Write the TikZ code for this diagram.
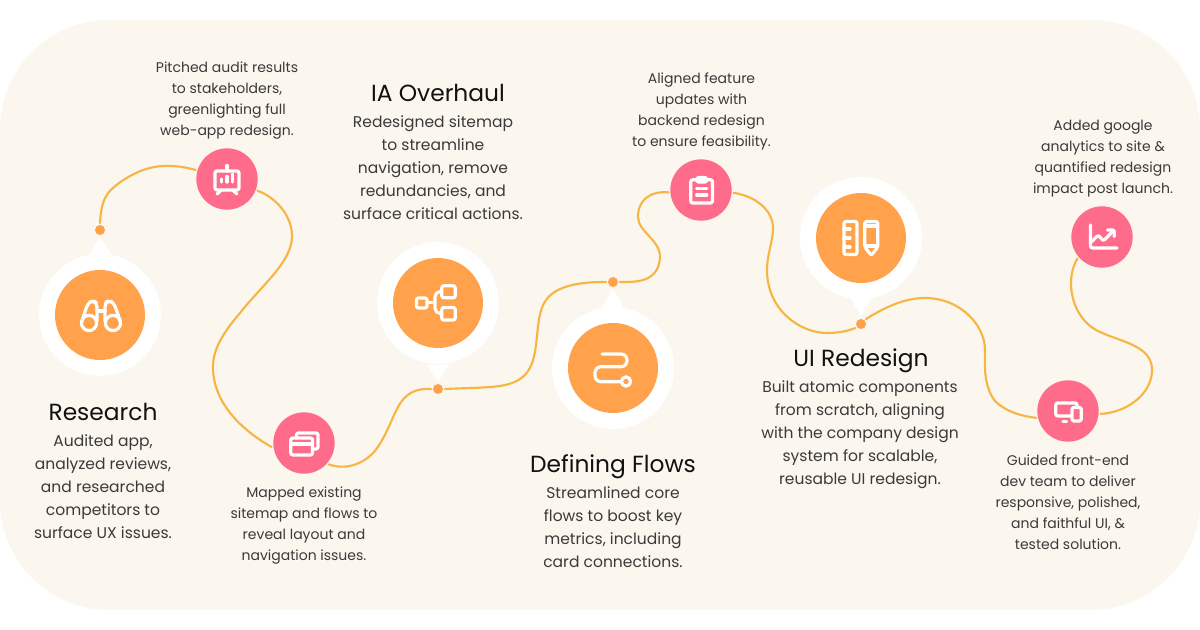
\documentclass[tikz,border=0pt]{standalone}
\usepackage{fontspec}
\setmainfont{Poppins}
\usetikzlibrary{arrows.meta,calc}
\definecolor{JourneyPaper}{HTML}{FBF7EF}
\definecolor{JourneyOrange}{HTML}{FFA24B}
\definecolor{JourneyPink}{HTML}{FF6B8A}
\definecolor{JourneyRoute}{HTML}{F7B643}
\definecolor{JourneyHead}{HTML}{111111}
\definecolor{JourneyInk}{HTML}{3A3A3A}
\tikzset{
    journey/diagram/.style={
        x=0.75pt, y=-0.75pt,
        line cap=round,
        line join=round
    },
    journey/route/.style={draw=JourneyRoute, line width=1.6pt},
    journey/halo/.style={circle, fill=white, inner sep=0pt, minimum size=91.5pt},
    journey/phase/.style={circle, fill=JourneyOrange, inner sep=0pt, minimum size=67.5pt},
    journey/step/.style={
        circle, fill=JourneyPink, inner sep=0pt, minimum size=46pt, outer sep=1.5pt
    },
    journey/point/.style={
        circle, fill=JourneyOrange, inner sep=0pt, minimum size=7.5pt, outer sep=1.5pt
    },
    journey/tail/.style={fill=white},
    journey/icon/.style={draw=white, line width=2.4pt, rounded corners=1.5pt},
    journey/heading/.style={
        align=center, text=JourneyHead, inner sep=0pt,
        font=\fontsize{17.5pt}{22pt}\selectfont
    },
    journey/body/.style={
        align=center, text=JourneyInk, inner sep=0pt,
        font=\fontsize{11.65pt}{17.25pt}\selectfont
    },
    journey/note/.style={
        align=center, text=JourneyInk, inner sep=0pt,
        font=\fontsize{10.5pt}{15.75pt}\selectfont
    }
}
\begin{document}
\begin{tikzpicture}[journey/diagram]
    \useasboundingbox (0,0) rectangle (1200,630);
    \fill[JourneyPaper, rounded corners=82pt] (0,20) rectangle (1200,610);

    % bubbles
    \fill[journey/tail] (89,256) -- (100,237) -- (112,256) -- cycle;
    \fill[journey/tail] (427,365) -- (438,382) -- (449,365) -- cycle;
    \fill[journey/tail] (602,308) -- (613,289) -- (624,308) -- cycle;
    \fill[journey/tail] (850,297) -- (861,317) -- (872,297) -- cycle;
    \node[journey/halo] (haloResearch) at (100,315) {};
    \node[journey/halo] (haloOverhaul) at (438,303) {};
    \node[journey/halo] (haloFlows) at (613,368) {};
    \node[journey/halo] (haloRedesign) at (861,238) {};
    \node[journey/phase] (phaseResearch) at (100,315) {};
    \node[journey/phase] (phaseOverhaul) at (438,303) {};
    \node[journey/phase] (phaseFlows) at (613,368) {};
    \node[journey/phase] (phaseRedesign) at (861,238) {};

    \node[journey/point] (dotResearch) at (100,230) {};
    \node[journey/point] (dotOverhaul) at (438,389) {};
    \node[journey/point] (dotFlows) at (613,282) {};
    \node[journey/point] (dotRedesign) at (861,324) {};

    \node[journey/step] (stepPitch) at (227,179) {};
    \node[journey/step] (stepMap) at (304,443) {};
    \node[journey/step] (stepAlign) at (701,190) {};
    \node[journey/step] (stepBuild) at (1068,411) {};
    \node[journey/step] (stepTrack) at (1102,237) {};

    % route
    \draw[journey/route] (dotResearch.north)
        .. controls (101,205) and (104,196) .. (113,188)
        .. controls (123,179) and (142,167) .. (163,166)
        .. controls (175,165.5) and (185,167) .. (stepPitch.164);
    \draw[journey/route] (stepPitch.-21)
        .. controls (275,197) and (292,215) .. (292,236)
        .. controls (292,262) and (262,285) .. (240,313)
        .. controls (222,334) and (213,350) .. (213,367)
        .. controls (213,405) and (245,432) .. (stepMap.187);
    \draw[journey/route] (stepMap.-41)
        .. controls (345,470) and (362,465) .. (374,452)
        .. controls (385,439) and (391,420) .. (398,407)
        .. controls (405,394) and (415,388) .. (dotOverhaul.west);
    \draw[journey/route] (dotOverhaul.east)
        .. controls (465,388) and (485,388) .. (500,386)
        .. controls (525,382) and (533,370) .. (536,345)
        .. controls (539,320) and (538,300) .. (558,290)
        .. controls (572,283) and (590,282) .. (dotFlows.west);
    \draw[journey/route] (dotFlows.east)
        .. controls (635,282) and (658,283) .. (660,258)
        .. controls (661,240) and (638,232) .. (638,217)
        .. controls (638,200) and (650,191) .. (stepAlign.184);
    \draw[journey/route] (stepAlign.-5)
        .. controls (755,196) and (774,210) .. (773,230)
        .. controls (772,245) and (767,255) .. (767,270)
        .. controls (767,310) and (800,333) .. (827,333)
        .. controls (838,333) and (848,331) .. (dotRedesign.215);
    \draw[journey/route] (dotRedesign.45)
        .. controls (885,307) and (905,298) .. (925,298)
        .. controls (960,298) and (985,325) .. (985,350)
        .. controls (985,365) and (983,385) .. (995,401)
        .. controls (1005,411) and (1020,416) .. (stepBuild.192);
    \draw[journey/route] (stepBuild.-5)
        .. controls (1125,413) and (1152,395) .. (1152,370)
        .. controls (1152,345) and (1120,342) .. (1098,331)
        .. controls (1080,322) and (1071,302) .. (1071,283)
        .. controls (1071,272) and (1074,265) .. (stepTrack.221);

    % icons
    \draw[journey/icon] (89,323) circle[radius=7.6];
    \draw[journey/icon] (113,323) circle[radius=7.6];
    \draw[journey/icon, rounded corners=3pt] (81.5,322) -- (88,303) -- (93,300.5) -- (97,303) -- (97,321);
    \draw[journey/icon, rounded corners=3pt] (120.5,322) -- (114,303) -- (109,300.5) -- (105,303) -- (105,321);
    \draw[journey/icon] (97,311) -- (105,311);

    \draw[journey/icon] (215,171) rectangle (239,190);
    \draw[journey/icon] (227,165.5) -- (227,171);
    \draw[journey/icon] (221.5,190) -- (217,194) (232.5,190) -- (237,194);
    \draw[journey/icon] (221.5,182) -- (221.5,179) (227,182) -- (227,176.5) (232.5,182) -- (232.5,174);

    \draw[journey/icon] (290.8,438) rectangle (312.5,455);
    \draw[journey/icon] (290.8,444) -- (312.5,444);
    \draw[journey/icon] (296.5,438) -- (296.5,433) -- (318,433) -- (318,449) -- (312.5,449);

    \draw[journey/icon] (416.5,298) rectangle (427,308);
    \draw[journey/icon] (441.8,285.8) rectangle (455.2,297.8);
    \draw[journey/icon] (441.8,307.5) rectangle (455.2,320);
    \draw[journey/icon] (427,302.7) -- (435,302.7);
    \draw[journey/icon, rounded corners=4pt] (441.8,291.5) -- (435,291.5) -- (435,313.5) -- (441.8,313.5);

    \draw[journey/icon, rounded corners=4.5pt] (602,354) -- (627,354) -- (627,366.7) -- (595,366.7) -- (595,381.7) -- (621,381.7);
    \draw[journey/icon] (626,381.5) circle[radius=4.6];

    \draw[journey/icon] (690.8,179.8) rectangle (712.5,203);
    \draw[journey/icon] (696.7,182) -- (696.7,177.5) -- (706.7,177.5) -- (706.7,182) -- cycle;
    \draw[journey/icon] (696.7,188.5) -- (706.7,188.5) (696.7,195) -- (706.7,195);

    \draw[journey/icon] (844,221.5) rectangle (857,254.5);
    \draw[journey/icon] (844,229) -- (850,229) (844,238) -- (850,238) (844,247) -- (850,247);
    \draw[journey/icon] (864.8,221.5) -- (877.8,221.5) -- (877.8,247) -- (871.3,255.5) -- (864.8,247) -- cycle;
    \draw[journey/icon] (864.8,226) -- (877.8,226) (864.8,246) -- (877.8,246);

    \draw[journey/icon] (1071,416) -- (1055.8,416) -- (1055.8,403) -- (1077,403) -- (1077,407);
    \draw[journey/icon] (1072,407.5) rectangle (1081.3,421);
    \draw[journey/icon] (1063,421.5) -- (1066.5,421.5);

    \draw[journey/icon] (1090.5,225) -- (1090.5,248) -- (1117,248);
    \draw[journey/icon] (1091.7,241.7) -- (1098.3,235) -- (1103.3,241) -- (1113.7,230.5);
    \draw[journey/icon] (1107.5,230) -- (1114.3,230) -- (1114.3,236.5);

    % labels
    \node[journey/heading] (headResearch) at (103,412) {Research};
    \node[journey/body] (textResearch) at (103,486.5) {Audited app,\\analyzed reviews,\\and researched\\competitors to\\surface UX issues.};
    \node[journey/note] (textPitch) at (227,100.5) {Pitched audit results\\to stakeholders,\\greenlighting full\\web-app redesign.};
    \node[journey/heading] (headOverhaul) at (438,93) {IA Overhaul};
    \node[journey/body] (textOverhaul) at (433,168) {Redesigned sitemap\\to streamline\\navigation, remove\\redundancies, and\\surface critical actions.};
    \node[journey/note] (textMap) at (304,525.5) {Mapped existing\\sitemap and flows to\\reveal layout and\\navigation issues.};
    \node[journey/heading] (headFlows) at (613,467) {Defining Flows};
    \node[journey/body] (textFlows) at (613,527) {Streamlined core\\flows to boost key\\metrics, including\\card connections.};
    \node[journey/note] (textAlign) at (701.5,111.5) {Aligned feature\\updates with\\backend redesign\\to ensure feasibility.};
    \node[journey/heading] (headRedesign) at (861,361) {UI Redesign};
    \node[journey/body] (textRedesign) at (860,435) {Built atomic components\\from scratch, aligning\\with the company design\\system for scalable,\\reusable UI redesign.};
    \node[journey/note] (textTrack) at (1103,158.5) {Added google\\analytics to site \&\\quantified redesign\\impact post launch.};
    \node[journey/note] (textBuild) at (1068,502) {Guided front-end\\dev team to deliver\\responsive, polished,\\and faithful UI, \&\\tested solution.};
\end{tikzpicture}
\end{document}
